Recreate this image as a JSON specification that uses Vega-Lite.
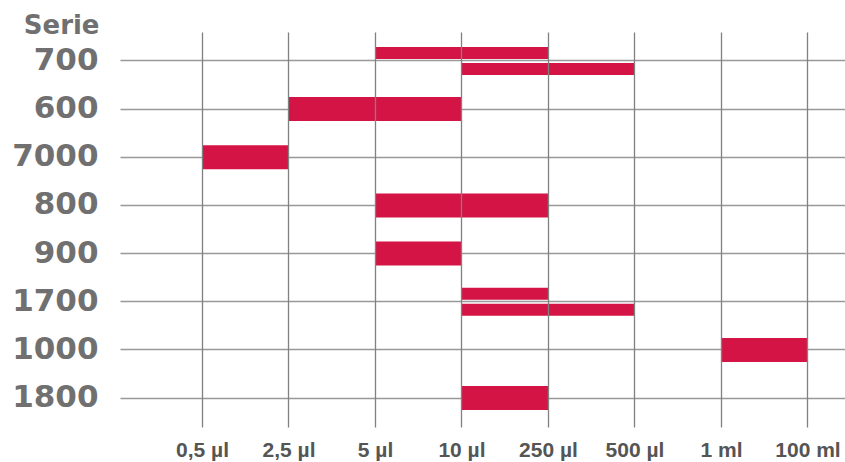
{
  "$schema": "https://vega.github.io/schema/vega-lite/v6.json",
  "width": 725,
  "height": 395,
  "autosize": {"type": "none"},
  "padding": {"left": 120, "top": 32, "right": 0, "bottom": 35},
  "background": "white",
  "config": {"view": {"stroke": null}},
  "data": {
    "values": [
      {"serie": "700", "von": 3, "bis": 5, "teil": "a"},
      {"serie": "700", "von": 4, "bis": 6, "teil": "b"},
      {"serie": "600", "von": 2, "bis": 4},
      {"serie": "7000", "von": 1, "bis": 2},
      {"serie": "800", "von": 3, "bis": 5},
      {"serie": "900", "von": 3, "bis": 4},
      {"serie": "1700", "von": 4, "bis": 5, "teil": "a"},
      {"serie": "1700", "von": 4, "bis": 6, "teil": "b"},
      {"serie": "1000", "von": 7, "bis": 8},
      {"serie": "1800", "von": 4, "bis": 5}
    ]
  },
  "encoding": {
    "y": {
      "field": "serie",
      "type": "nominal",
      "scale": {"domain": ["700", "600", "7000", "800", "900", "1700", "1000", "1800"], "paddingInner": 0, "paddingOuter": 0.1},
      "axis": {
        "title": "Serie",
        "titleAngle": 0,
        "titleAlign": "right",
        "titleBaseline": "alphabetic",
        "titleX": -21,
        "titleY": 1,
        "titleFont": "DejaVu Sans",
        "titleFontSize": 26,
        "titleFontWeight": "bold",
        "titleColor": "#707070",
        "labelFont": "DejaVu Sans",
        "labelFontSize": 31,
        "labelFontWeight": "bold",
        "labelColor": "#707070",
        "labelPadding": 22,
        "ticks": false,
        "domain": false,
        "grid": true,
        "gridColor": "#999999",
        "gridWidth": 1.5,
        "bandPosition": 0.5,
        "zindex": 0
      }
    },
    "x": {
      "field": "von",
      "type": "quantitative",
      "scale": {"domain": [0.052, 8.434], "nice": false, "zero": false},
      "axis": {
        "values": [1, 2, 3, 4, 5, 6, 7, 8],
        "labelExpr": "['','0,5 µl','2,5 µl','5 µl','10 µl','250 µl','500 µl','1 ml','100 ml'][datum.value]",
        "title": null,
        "labelFont": "Liberation Sans",
        "labelFontSize": 21,
        "labelFontWeight": "bold",
        "labelColor": "#555555",
        "labelBaseline": "alphabetic",
        "labelPadding": 29,
        "labelFlush": false,
        "ticks": false,
        "domain": false,
        "grid": true,
        "gridColor": "#808080",
        "gridWidth": 1.3,
        "zindex": 1
      }
    },
    "x2": {"field": "bis"}
  },
  "layer": [
    {
      "transform": [{"filter": "!datum.teil"}],
      "mark": {"type": "bar", "size": 24, "color": "#d41445"}
    },
    {
      "transform": [{"filter": "datum.teil"}],
      "mark": {"type": "bar", "color": "#d41445"},
      "encoding": {
        "yOffset": {"field": "teil", "type": "nominal", "scale": {"paddingInner": 0.25, "paddingOuter": 0.63}}
      }
    }
  ]
}
